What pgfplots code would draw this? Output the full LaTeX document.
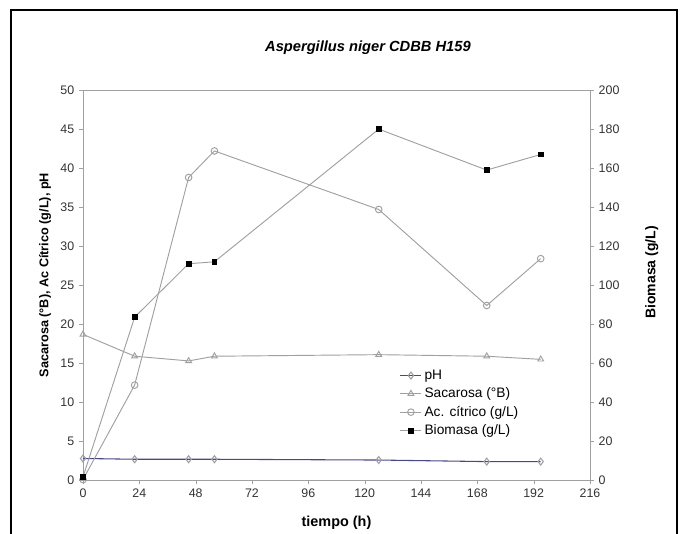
\documentclass[border=0pt]{standalone}
\usepackage{fontspec}
\setmainfont{Liberation Sans}
\usepackage{pgfplots}
\pgfplotsset{compat=1.18}

\definecolor{lnGray}{RGB}{160,160,160}
\definecolor{axGray}{RGB}{160,160,160}
\definecolor{phBlue}{RGB}{70,70,150}

\pgfplotsset{
  base/.style={
    scale only axis, width=380pt, height=292.5pt,
    xmin=0, xmax=216,
    tick align=outside,
    axis line style={axGray},
    major tick length=3pt,
    tick style={axGray},
    tick label style={font=\fontsize{9.3}{10}\selectfont, text=black!80},
    /pgf/number format/assume math mode=true,
  },
  ln/.style={lnGray, line width=0.7pt, mark size=2.5pt},
}

\begin{document}
\begin{tikzpicture}
\begin{axis}[base,
  ymin=0, ymax=50, ytick distance=5,
  xtick={0,24,...,216},
  xtick pos=bottom, ytick pos=left,
  xlabel={tiempo (h)},
  ylabel={Sacarosa (°B), Ac Cítrico (g/L), pH},
  xlabel style={font=\fontsize{10.8}{12}\selectfont\bfseries, at={(rel axis cs:0.5,-0.108)}, anchor=center},
  ylabel style={font=\fontsize{9.5}{10}\selectfont\bfseries, at={(rel axis cs:-0.075,0.526)}, anchor=center},
  title={\bfseries\itshape Aspergillus niger CDBB H159},
  title style={font=\fontsize{11}{12}\selectfont, at={(rel axis cs:0.562,1.088)}, anchor=center},
  clip=false,
]
% outer frame and page size
\path[use as bounding box] (rel axis cs:-0.1637,-0.1359) rectangle (rel axis cs:1.1874,1.2308);
\draw[black, line width=1.2pt] (rel axis cs:-0.142,-0.14) rectangle (rel axis cs:1.1716,1.205);

\addplot[phBlue, line width=0.8pt, mark=diamond, mark options={fill=white, draw=lnGray}, mark size=2.6pt]
  coordinates {(0,2.8) (22,2.7) (45,2.7) (56,2.7) (126,2.6) (172,2.4) (195,2.4)};
\addplot[ln, mark=triangle, mark options={fill=white}]
  coordinates {(0,18.7) (22,15.9) (45,15.3) (56,15.9) (126,16.1) (172,15.9) (195,15.5)};
\addplot[ln, mark=o, mark options={fill=white}]
  coordinates {(0,0.1) (22,12.2) (45,38.8) (56,42.2) (126,34.7) (172,22.4) (195,28.4)};
\end{axis}

\begin{axis}[base,
  ymin=0, ymax=200, ytick distance=20,
  axis y line*=right, axis x line=none,
  ylabel={Biomasa (g/L)},
  ylabel style={font=\fontsize{10.5}{11}\selectfont\bfseries, at={(rel axis cs:1.122,0.533)}, anchor=center},
  legend style={at={(rel axis cs:0.622,0.294)}, anchor=north west, draw=none, fill=none,
    font=\fontsize{10.3}{11}\selectfont, row sep=0.8pt, inner sep=1pt,
    nodes={inner xsep=2pt},
    legend cell align=left},
  legend image code/.code={
    \draw[#1] (0cm,0cm) -- (0.55cm,0cm);
    \draw[#1, mark repeat=2, mark phase=2] plot coordinates {(0cm,0cm) (0.275cm,0cm) (0.55cm,0cm)};
  },
]
\addlegendimage{phBlue, line width=0.8pt, mark=diamond, mark options={fill=white, draw=lnGray}, mark size=2.6pt}
\addlegendentry{pH}
\addlegendimage{ln, mark=triangle, mark options={fill=white}}
\addlegendentry{Sacarosa (°B)}
\addlegendimage{ln, mark=o, mark options={fill=white}}
\addlegendentry{Ac. cítrico (g/L)}
\addplot[ln, mark=square*, mark options={fill=black, draw=black}, mark size=1.8pt]
  coordinates {(0,1.7) (22,83.6) (45,111) (56,112) (126,180) (172,159) (195,167)};
\addlegendentry{Biomasa (g/L)}
\end{axis}
\end{tikzpicture}
\end{document}
